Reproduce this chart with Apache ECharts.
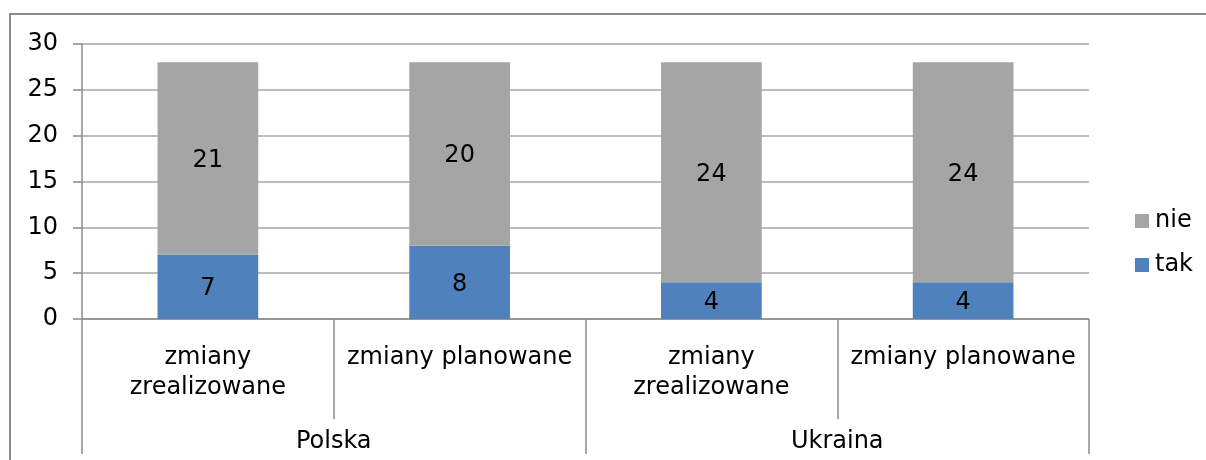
<!DOCTYPE html>
<html>
<head>
<meta charset="utf-8">
<script src="https://cdn.jsdelivr.net/npm/echarts@6/dist/echarts.min.js"></script>
<style>
  html, body { margin: 0; padding: 0; background: #fff; }
  #chart { width: 1206px; height: 460px; }
</style>
</head>
<body>
<div id="chart"></div>
<script>
const subCategories = ['zmiany\nzrealizowane', 'zmiany planowane', 'zmiany\nzrealizowane', 'zmiany planowane']
const countries = ['Polska', 'Ukraina']
const takValues = [7, 8, 4, 4]
const nieValues = [21, 20, 24, 24]

const font = 'DejaVu Sans'
const fs = 24
const axisGray = '#8c8c8c'
const gridGray = '#a6a6a6'

const chart = echarts.init(document.getElementById('chart'), null, { renderer: 'canvas' })

chart.setOption({
  animation: false,
  textStyle: { fontFamily: font, color: '#000' },
  graphic: [
    {
      type: 'rect',
      shape: { x: 10, y: 14, width: 1300, height: 600 },
      style: { fill: 'none', stroke: axisGray, lineWidth: 2 },
      silent: true,
    },
  ],
  grid: { left: 82, right: 117, top: 44, bottom: 141 },
  legend: {
    orient: 'vertical',
    left: 1130,
    top: 204,
    itemWidth: 14,
    itemHeight: 14,
    itemGap: 20,
    icon: 'rect',
    data: ['nie', 'tak'],
    textStyle: { fontFamily: font, fontSize: fs, color: '#000', padding: [0, 0, 0, 1] },
  },
  xAxis: [
    {
      type: 'category',
      position: 'bottom',
      data: subCategories,
      axisLine: { show: true, lineStyle: { color: axisGray, width: 1.5 } },
      axisTick: { show: true, interval: 0, length: 100, alignWithLabel: false, lineStyle: { color: axisGray, width: 1.5 } },
      axisLabel: { interval: 0, margin: 24, fontFamily: font, fontSize: fs, color: '#000', lineHeight: 30 },
      splitLine: { show: false },
    },
    {
      type: 'category',
      position: 'bottom',
      data: countries,
      axisLine: { show: false },
      axisTick: { show: true, interval: 0, length: 135, alignWithLabel: false, lineStyle: { color: axisGray, width: 1.5 } },
      axisLabel: { interval: 0, margin: 108, fontFamily: font, fontSize: fs, color: '#000', lineHeight: 30 },
      splitLine: { show: false },
    },
  ],
  yAxis: {
    type: 'value',
    min: 0,
    max: 30,
    interval: 5,
    axisLine: { show: true, lineStyle: { color: axisGray, width: 1.5 } },
    axisTick: { show: true, length: 9, lineStyle: { color: axisGray, width: 1.5 } },
    axisLabel: { margin: 24, fontFamily: font, fontSize: fs, color: '#000' },
    splitLine: { show: true, lineStyle: { color: gridGray, width: 1.5 } },
  },
  series: [
    {
      name: 'tak',
      type: 'bar',
      stack: 'total',
      xAxisIndex: 0,
      barWidth: '40%',
      data: takValues,
      itemStyle: { color: '#4f81bd' },
      label: { show: true, position: 'inside', fontFamily: font, fontSize: fs, color: '#000', offset: [0, 2] },
    },
    {
      name: 'nie',
      type: 'bar',
      stack: 'total',
      xAxisIndex: 0,
      barWidth: '40%',
      data: nieValues,
      itemStyle: { color: '#a5a5a5' },
      label: { show: true, position: 'inside', fontFamily: font, fontSize: fs, color: '#000', offset: [0, 2] },
    },
  ],
})
</script>
</body>
</html>
